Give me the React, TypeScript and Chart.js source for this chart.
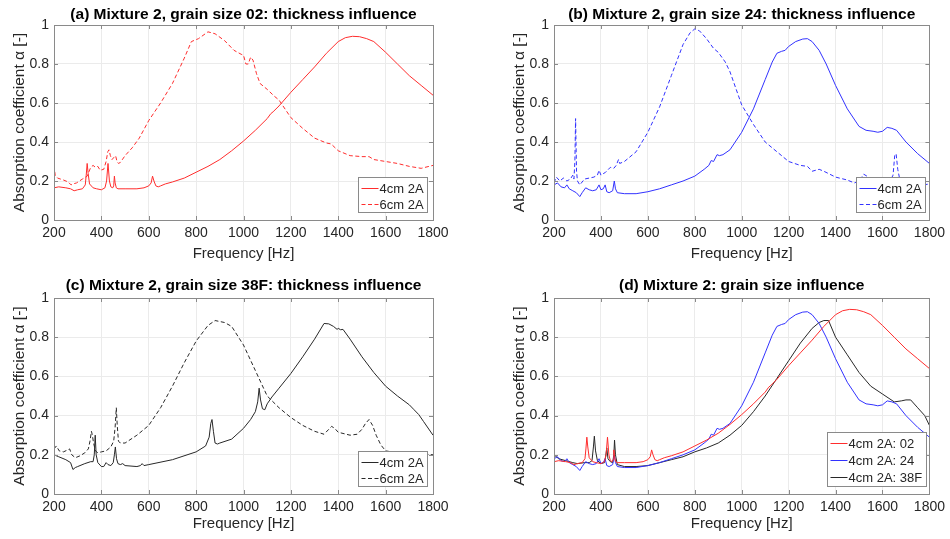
import React, { useEffect, useRef } from "react";
import { Chart, registerables } from "chart.js";

Chart.register(...registerables);

const FONT = "'Liberation Sans', Arial, Helvetica, sans-serif";

// ---------- Data (frequency in Hz, absorption coefficient) ----------
const xTicks = [200, 400, 600, 800, 1000, 1200, 1400, 1600, 1800];
const yTicks = [0, 0.2, 0.4, 0.6, 0.8, 1];

// (a) grain size 02
const freqA4 = [200,220,250,270,285,300,320,332,336,340,344,350,365,380,400,415,422,428,434,440,448,452,455,458,463,470,500,550,580,600,610,616,622,630,640,650,670,700,750,800,850,900,950,1000,1050,1100,1115,1125,1150,1200,1250,1300,1350,1400,1430,1460,1490,1520,1550,1600,1650,1700,1750,1800];
const alphaA4 = [0.165,0.17,0.165,0.16,0.15,0.155,0.16,0.18,0.23,0.29,0.24,0.185,0.165,0.16,0.155,0.165,0.2,0.29,0.2,0.17,0.165,0.175,0.225,0.19,0.165,0.16,0.16,0.16,0.165,0.175,0.19,0.225,0.2,0.175,0.17,0.175,0.185,0.195,0.215,0.245,0.275,0.31,0.355,0.405,0.46,0.52,0.545,0.555,0.585,0.655,0.72,0.785,0.855,0.915,0.935,0.942,0.94,0.93,0.915,0.86,0.8,0.74,0.69,0.64];
const freqA6 = [200,205,215,240,260,272,280,295,320,340,355,365,375,385,395,410,420,427,432,438,445,452,460,466,472,480,500,530,560,600,650,700,750,780,810,850,880,920,960,990,1000,1010,1020,1030,1040,1055,1070,1100,1130,1150,1200,1250,1300,1350,1370,1400,1450,1500,1530,1550,1600,1650,1700,1750,1800];
const alphaA6 = [0.28,0.23,0.215,0.205,0.195,0.18,0.185,0.19,0.21,0.225,0.27,0.28,0.27,0.275,0.255,0.26,0.3,0.35,0.36,0.33,0.31,0.32,0.33,0.3,0.29,0.295,0.33,0.37,0.42,0.51,0.6,0.7,0.83,0.915,0.93,0.965,0.955,0.92,0.87,0.85,0.845,0.8,0.8,0.835,0.82,0.75,0.7,0.67,0.635,0.615,0.525,0.47,0.42,0.395,0.39,0.355,0.33,0.325,0.325,0.31,0.3,0.29,0.275,0.265,0.28];

// (b) grain size 24
const freqB4 = [200,215,230,245,255,265,280,295,310,320,335,350,365,380,392,400,410,418,425,435,450,457,462,470,500,550,600,650,700,750,800,840,860,870,880,895,905,920,950,1000,1050,1100,1130,1150,1170,1185,1200,1230,1260,1280,1300,1330,1360,1400,1450,1500,1530,1560,1580,1600,1620,1640,1660,1700,1750,1800];
const alphaB4 = [0.18,0.19,0.17,0.165,0.18,0.16,0.15,0.14,0.12,0.14,0.165,0.155,0.15,0.155,0.18,0.155,0.16,0.18,0.145,0.14,0.15,0.2,0.16,0.14,0.135,0.135,0.145,0.16,0.18,0.2,0.225,0.26,0.28,0.305,0.3,0.335,0.33,0.335,0.36,0.45,0.57,0.72,0.81,0.855,0.865,0.87,0.89,0.915,0.928,0.93,0.915,0.87,0.8,0.69,0.57,0.48,0.46,0.455,0.45,0.455,0.475,0.47,0.46,0.4,0.34,0.29];
const freqB6 = [200,210,225,240,255,270,280,285,289,292,296,300,310,330,350,370,385,392,400,420,440,455,465,475,480,500,550,600,650,700,750,780,800,820,850,880,900,930,950,1000,1050,1100,1150,1200,1250,1280,1300,1330,1350,1400,1450,1480,1500,1520,1540,1570,1600,1630,1645,1652,1658,1665,1675,1700,1750,1800];
const alphaB6 = [0.19,0.22,0.2,0.215,0.2,0.21,0.23,0.21,0.3,0.52,0.25,0.2,0.18,0.21,0.215,0.22,0.23,0.255,0.23,0.245,0.27,0.265,0.28,0.31,0.29,0.3,0.35,0.45,0.58,0.74,0.9,0.96,0.98,0.97,0.93,0.88,0.86,0.81,0.76,0.59,0.49,0.4,0.35,0.3,0.28,0.275,0.25,0.26,0.25,0.22,0.205,0.19,0.2,0.235,0.22,0.2,0.19,0.195,0.23,0.33,0.34,0.26,0.2,0.18,0.175,0.185];

// (c) grain size 38F
const freqC4 = [200,220,250,270,280,290,300,330,355,365,370,374,378,385,400,410,420,428,440,450,455,459,464,470,480,490,500,550,565,572,580,600,700,800,840,855,862,867,873,880,890,900,950,1000,1030,1050,1060,1066,1072,1080,1090,1100,1120,1150,1200,1250,1300,1340,1360,1380,1395,1400,1410,1420,1450,1500,1550,1600,1650,1700,1720,1740,1760,1800];
const alphaC4 = [0.2,0.19,0.175,0.16,0.125,0.135,0.14,0.155,0.165,0.165,0.2,0.3,0.2,0.16,0.14,0.14,0.16,0.15,0.145,0.16,0.2,0.24,0.18,0.155,0.15,0.155,0.145,0.14,0.145,0.155,0.145,0.15,0.175,0.215,0.245,0.29,0.36,0.38,0.32,0.26,0.255,0.26,0.28,0.335,0.38,0.42,0.47,0.54,0.48,0.435,0.43,0.46,0.495,0.54,0.615,0.7,0.79,0.87,0.868,0.855,0.84,0.845,0.838,0.84,0.79,0.7,0.62,0.55,0.5,0.455,0.43,0.405,0.37,0.3];
const freqC6 = [200,210,222,240,258,266,275,290,310,330,345,352,358,362,367,375,385,400,420,440,452,458,463,467,472,480,500,550,600,650,700,750,800,850,880,920,950,1000,1050,1100,1150,1200,1250,1300,1340,1360,1372,1385,1400,1450,1480,1500,1515,1530,1545,1560,1580,1600,1650,1700,1750,1800];
const alphaC6 = [0.23,0.245,0.22,0.215,0.225,0.23,0.2,0.185,0.195,0.21,0.23,0.27,0.32,0.3,0.26,0.22,0.21,0.215,0.22,0.24,0.27,0.34,0.44,0.35,0.27,0.26,0.26,0.3,0.35,0.44,0.55,0.67,0.78,0.86,0.885,0.875,0.855,0.76,0.63,0.5,0.44,0.39,0.35,0.32,0.305,0.33,0.345,0.335,0.315,0.3,0.305,0.33,0.36,0.38,0.35,0.3,0.25,0.22,0.21,0.205,0.205,0.2];

// (d) grain size 38F, 4cm (comparison curve)
const freqD38 = [200,220,250,280,300,330,350,362,368,372,377,385,400,415,420,425,430,440,450,455,458,462,470,500,550,600,650,700,750,800,850,900,950,1000,1050,1100,1150,1200,1250,1300,1330,1350,1370,1400,1450,1500,1550,1600,1650,1680,1700,1720,1750,1780,1800];
const alphaD38 = [0.2,0.18,0.17,0.16,0.155,0.16,0.16,0.17,0.24,0.295,0.22,0.17,0.155,0.16,0.19,0.235,0.18,0.165,0.16,0.2,0.275,0.2,0.15,0.14,0.14,0.145,0.16,0.175,0.19,0.215,0.235,0.26,0.3,0.35,0.42,0.5,0.59,0.68,0.77,0.845,0.875,0.885,0.885,0.8,0.71,0.62,0.55,0.51,0.47,0.475,0.48,0.48,0.44,0.4,0.35];

const titles = [
  "(a) Mixture 2, grain size 02: thickness influence",
  "(b) Mixture 2, grain size 24: thickness influence",
  "(c) Mixture 2, grain size 38F: thickness influence",
  "(d) Mixture 2: grain size influence",
];

const RED = "rgb(255,45,45)";
const BLUE = "rgb(50,50,255)";
const BLACK = "rgb(40,40,40)";
const DASH = [4, 2.5];

type Series = { label: string; freq: number[]; alpha: number[]; color: string; dash: number[] };

type PanelCfg = {
  left: number; top: number; W: number; H: number;
  L: number; R: number; T: number; B: number;
  title: string; titleY: number;
  yTitlePad: number; xTitlePad: number;
  legendRight: number; rowH: number;
  series: Series[];
};

const panels: PanelCfg[] = [
  { left: 0, top: 0, W: 475, H: 270, L: 54, R: 433, T: 25, B: 220, title: titles[0], titleY: 15, yTitlePad: 10, xTitlePad: 7, legendRight: 6, rowH: 16,
    series: [
      { label: "4cm 2A", freq: freqA4, alpha: alphaA4, color: RED, dash: [] },
      { label: "6cm 2A", freq: freqA6, alpha: alphaA6, color: RED, dash: DASH },
    ] },
  { left: 475, top: 0, W: 475, H: 270, L: 79, R: 459, T: 25, B: 220, title: titles[1], titleY: 15, yTitlePad: 35, xTitlePad: 7, legendRight: 4, rowH: 16,
    series: [
      { label: "4cm 2A", freq: freqB4, alpha: alphaB4, color: BLUE, dash: [] },
      { label: "6cm 2A", freq: freqB6, alpha: alphaB6, color: BLUE, dash: DASH },
    ] },
  { left: 0, top: 270, W: 475, H: 269, L: 54, R: 433, T: 28, B: 224, title: titles[2], titleY: 16, yTitlePad: 10, xTitlePad: 6, legendRight: 6, rowH: 16,
    series: [
      { label: "4cm 2A", freq: freqC4, alpha: alphaC4, color: BLACK, dash: [] },
      { label: "6cm 2A", freq: freqC6, alpha: alphaC6, color: BLACK, dash: DASH },
    ] },
  { left: 475, top: 270, W: 475, H: 269, L: 79, R: 459, T: 28, B: 224, title: titles[3], titleY: 16, yTitlePad: 35, xTitlePad: 6, legendRight: 3, rowH: 17,
    series: [
      { label: "4cm 2A: 02", freq: freqA4, alpha: alphaA4, color: RED, dash: [] },
      { label: "4cm 2A: 24", freq: freqB4, alpha: alphaB4, color: BLUE, dash: [] },
      { label: "4cm 2A: 38F", freq: freqD38, alpha: alphaD38, color: BLACK, dash: [] },
    ] },
];

const AXIS_COLOR = "#8a8a8a";
const TEXT_COLOR = "#262626";

const framePlugin = {
  id: "frame",
  afterDatasetsDraw(chart: any, _args: any, opts: any) {
    const { ctx, chartArea: a, scales } = chart;
    const xs = scales.x, ys = scales.y;
    ctx.save();
    ctx.strokeStyle = AXIS_COLOR;
    ctx.lineWidth = 1;
    // inward tick marks
    ctx.beginPath();
    for (const v of xTicks) {
      const px = Math.round(xs.getPixelForValue(v)) + 0.5;
      ctx.moveTo(px, a.bottom); ctx.lineTo(px, a.bottom - 4);
      ctx.moveTo(px, a.top); ctx.lineTo(px, a.top + 4);
    }
    for (const v of yTicks) {
      const py = Math.round(ys.getPixelForValue(v)) + 0.5;
      ctx.moveTo(a.left, py); ctx.lineTo(a.left + 4, py);
      ctx.moveTo(a.right, py); ctx.lineTo(a.right - 4, py);
    }
    ctx.stroke();
    // box
    ctx.strokeRect(Math.round(a.left) + 0.5, Math.round(a.top) + 0.5, Math.round(a.right - a.left), Math.round(a.bottom - a.top));

    // title
    ctx.fillStyle = "#000";
    ctx.font = `bold 15.5px ${FONT}`;
    ctx.textAlign = "center";
    ctx.textBaseline = "middle";
    ctx.fillText(opts.title, (a.left + a.right) / 2, opts.titleY);

    // legend
    ctx.font = `13px ${FONT}`;
    const dsets = chart.data.datasets;
    let maxW = 0;
    for (const d of dsets) maxW = Math.max(maxW, ctx.measureText(d.label).width);
    const rowH = opts.rowH;
    const boxW = Math.round(3 + 17 + 1 + maxW + 4);
    const boxH = Math.round(dsets.length * rowH + 3);
    const bx = Math.round(a.right - opts.legendRight - boxW) + 0.5;
    const by = Math.round(a.bottom - 8 - boxH) + 0.5;
    ctx.fillStyle = "#fff";
    ctx.fillRect(bx, by, boxW, boxH);
    ctx.strokeStyle = AXIS_COLOR;
    ctx.strokeRect(bx, by, boxW, boxH);
    dsets.forEach((d: any, i: number) => {
      const cy = Math.round(by + 2 + rowH * (i + 0.5)) + 0.5;
      ctx.strokeStyle = d.borderColor;
      ctx.lineWidth = 1;
      ctx.setLineDash(d.borderDash || []);
      ctx.beginPath();
      ctx.moveTo(bx + 3, cy);
      ctx.lineTo(bx + 20, cy);
      ctx.stroke();
      ctx.setLineDash([]);
      ctx.fillStyle = TEXT_COLOR;
      ctx.textAlign = "left";
      ctx.textBaseline = "middle";
      ctx.fillText(d.label, bx + 21, cy + 0.5);
    });
    ctx.restore();
  },
};

function Panel({ cfg }: { cfg: PanelCfg }) {
  const ref = useRef<HTMLCanvasElement | null>(null);
  useEffect(() => {
    if (!ref.current) return;
    const chart = new Chart(ref.current, {
      type: "line",
      data: {
        datasets: cfg.series.map((s) => ({
          label: s.label,
          data: s.freq.map((f, i) => ({ x: f, y: s.alpha[i] })),
          borderColor: s.color,
          backgroundColor: s.color,
          borderDash: s.dash,
          borderWidth: 1,
          pointRadius: 0,
          tension: 0,
          fill: false,
        })),
      },
      options: {
        animation: false,
        responsive: false,
        maintainAspectRatio: false,
        devicePixelRatio: 1,
        layout: { padding: { left: 0, top: cfg.T, right: cfg.W - cfg.R, bottom: 0 } },
        plugins: {
          legend: { display: false },
          title: { display: false },
          tooltip: { enabled: false },
          frame: { title: cfg.title, titleY: cfg.titleY, legendRight: cfg.legendRight, rowH: cfg.rowH },
        } as any,
        scales: {
          x: {
            type: "linear",
            min: 200,
            max: 1800,
            afterBuildTicks: (s: any) => { s.ticks = xTicks.map((v) => ({ value: v })); },
            afterFit: (s: any) => { s.height = cfg.H - cfg.B; },
            ticks: {
              autoSkip: false, maxRotation: 0, padding: 5, color: TEXT_COLOR, font: { family: FONT, size: 14 },
              callback: (v: any) => String(v),
            },
            grid: { color: "#ebebeb", drawTicks: false, lineWidth: 1 },
            border: { display: false },
            title: { display: true, text: "Frequency [Hz]", color: TEXT_COLOR, font: { family: FONT, size: 15 }, padding: { top: 0, bottom: cfg.xTitlePad } },
          },
          y: {
            type: "linear",
            min: 0,
            max: 1,
            afterBuildTicks: (s: any) => { s.ticks = yTicks.map((v) => ({ value: v })); },
            afterFit: (s: any) => { s.width = cfg.L; },
            ticks: {
              padding: 5, color: TEXT_COLOR, font: { family: FONT, size: 14 },
              callback: (v: any) => String(Number(Number(v).toFixed(1))),
            },
            grid: { color: "#ebebeb", drawTicks: false, lineWidth: 1 },
            border: { display: false },
            title: { display: true, text: "Absorption coefficient α [-]", color: TEXT_COLOR, font: { family: FONT, size: 15.5 }, padding: { top: cfg.yTitlePad, bottom: 0 } },
          },
        },
      } as any,
      plugins: [framePlugin as any],
    });
    return () => chart.destroy();
  }, [cfg]);
  return (
    <canvas
      ref={ref}
      width={cfg.W}
      height={cfg.H}
      style={{ position: "absolute", left: cfg.left, top: cfg.top, width: cfg.W, height: cfg.H }}
    />
  );
}

export default function App() {
  useEffect(() => {
    document.body.style.margin = "0";
  }, []);
  return (
    <div style={{ position: "absolute", left: 0, top: 0, width: 950, height: 539, background: "#fff", overflow: "hidden" }}>
      {panels.map((p, i) => (
        <Panel key={i} cfg={p} />
      ))}
    </div>
  );
}
